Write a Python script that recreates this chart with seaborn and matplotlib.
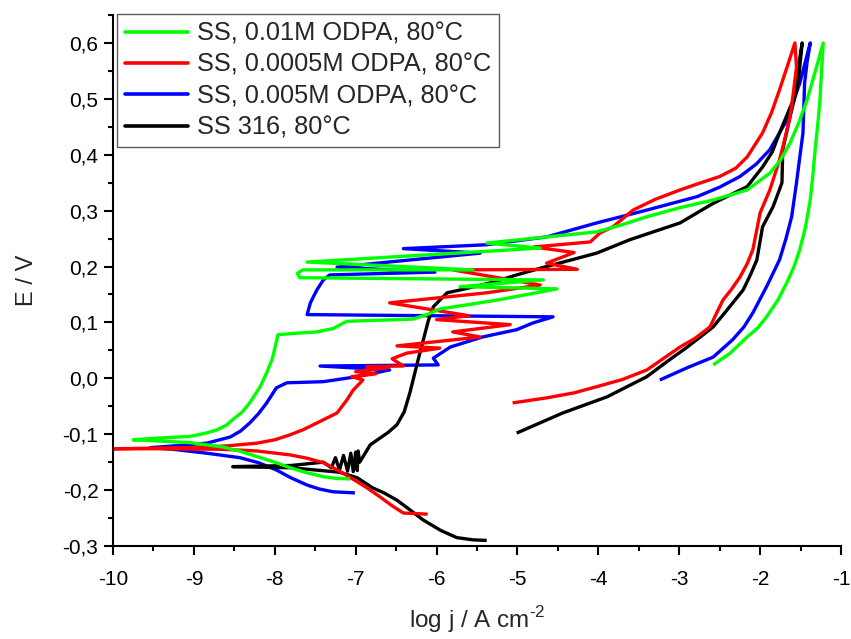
import numpy as np
import pandas as pd
import matplotlib
matplotlib.use("Agg")
import matplotlib.pyplot as plt
from matplotlib.ticker import FuncFormatter, MultipleLocator
from matplotlib.lines import Line2D
import seaborn as sns

# ---------------- data ----------------
series_labels = ["SS, 0.01M ODPA, 80°C", "SS, 0.0005M ODPA, 80°C",
                 "SS, 0.005M ODPA, 80°C", "SS 316, 80°C"]
series_colors = ["#00FF00", "#FF0000", "#0000FF", "#000000"]

green_logj = [-7.07, -7.25, -7.40, -7.60, -7.81, -8.00, -8.22, -8.44, -8.64, -9.05, -9.46, -9.75,
              -9.46, -9.05, -8.85, -8.71, -8.60, -8.52, -8.40, -8.31, -8.18, -8.10, -8.03, -7.96,
              -7.70, -7.48, -7.28, -7.11, -6.29, -6.10, -5.96, -5.60, -5.25, -4.51, -5.71, -4.68,
              -7.69, -7.72, -7.65, -5.55, -7.60, -4.72, -5.38, -4.02, -3.70, -3.40, -3.00, -2.58,
              -2.16, -1.88, -1.75, -1.63, -1.52, -1.42, -1.32, -1.22,
              -1.24, -1.26, -1.29, -1.32, -1.35, -1.38, -1.44, -1.51, -1.58, -1.67, -1.78,
              -1.92, -2.03, -2.16, -2.37, -2.58]
green_E = [-0.180, -0.179, -0.176, -0.169, -0.160, -0.150, -0.140, -0.130, -0.123, -0.115, -0.112, -0.110,
           -0.107, -0.104, -0.098, -0.092, -0.084, -0.074, -0.060, -0.044, -0.015, 0.010, 0.035, 0.078,
           0.081, 0.083, 0.089, 0.102, 0.106, 0.115, 0.124, 0.132, 0.140, 0.160, 0.164, 0.176,
           0.180, 0.188, 0.194, 0.194, 0.208, 0.233, 0.242, 0.262, 0.275, 0.289, 0.305, 0.319,
           0.337, 0.367, 0.390, 0.421, 0.458, 0.498, 0.548, 0.600,
           0.550, 0.498, 0.450, 0.409, 0.360, 0.319, 0.270, 0.230, 0.200, 0.171, 0.140,
           0.110, 0.090, 0.074, 0.045, 0.024]

red_logj = [-6.11, -6.41, -6.55, -6.70, -6.85, -6.98, -7.20, -7.40, -7.60, -7.81, -8.22, -8.64,
            -9.46, -10.0,
            -9.05, -8.60, -8.22, -8.00, -7.81, -7.65, -7.48, -7.23, -7.11, -7.03, -6.91,
            -7.05, -6.75, -7.00, -6.60, -6.86, -6.41, -6.55, -6.37, -5.96, -6.49,
            -5.46, -5.80, -5.09, -6.00, -5.60, -6.58, -5.38, -4.72, -5.80, -4.26,
            -4.64, -4.30, -4.80, -4.10, -3.98, -3.82, -3.57, -3.30, -2.99, -2.75, -2.50, -2.30,
            -2.16, -1.97, -1.86, -1.76, -1.66, -1.57,
            -1.55, -1.59, -1.63, -1.70, -1.76, -1.88, -2.00, -2.09, -2.16, -2.25, -2.35, -2.46,
            -2.62, -2.80, -2.99, -3.20, -3.40, -3.70, -4.02, -4.30, -4.64, -5.06]
red_E = [-0.243, -0.241, -0.228, -0.212, -0.197, -0.185, -0.166, -0.151, -0.143, -0.137, -0.130, -0.127,
         -0.126, -0.126,
         -0.124, -0.121, -0.116, -0.110, -0.101, -0.092, -0.080, -0.062, -0.039, -0.021, -0.003,
         0.003, 0.008, 0.012, 0.019, 0.021, 0.022, 0.035, 0.045, 0.054, 0.058,
         0.074, 0.083, 0.096, 0.105, 0.112, 0.135, 0.153, 0.167, 0.194, 0.195,
         0.206, 0.225, 0.235, 0.244, 0.260, 0.271, 0.301, 0.320, 0.337, 0.349, 0.361, 0.376,
         0.396, 0.439, 0.475, 0.516, 0.560, 0.600,
         0.557, 0.510, 0.468, 0.425, 0.391, 0.337, 0.296, 0.230, 0.205, 0.181, 0.160, 0.140,
         0.092, 0.072, 0.056, 0.035, 0.015, -0.002, -0.015, -0.026, -0.035, -0.044]

blue_logj = [-7.01, -7.28, -7.45, -7.60, -7.80, -7.98, -8.20, -8.43, -8.84, -9.26, -9.54,
             -9.26, -8.84, -8.55, -8.42, -8.31, -8.20, -8.10, -7.98, -7.85, -7.40, -6.98, -6.58,
             -7.44, -5.98, -6.04, -5.83, -5.43, -5.01, -4.81, -4.56, -7.60, -7.56,
             -7.48, -7.40, -7.32, -6.02, -7.23, -5.46, -6.41, -5.38, -4.64, -4.02,
             -3.40, -2.78, -2.50, -2.25, -2.05, -1.88, -1.67, -1.51, -1.38,
             -1.42, -1.45, -1.47, -1.51, -1.55, -1.61, -1.68, -1.76, -1.92, -2.09, -2.20, -2.34,
             -2.58, -2.90, -3.24]
blue_E = [-0.205, -0.203, -0.198, -0.191, -0.178, -0.164, -0.151, -0.142, -0.134, -0.127, -0.124,
          -0.121, -0.116, -0.105, -0.094, -0.080, -0.063, -0.044, -0.017, -0.008, -0.006, 0.003, 0.015,
          0.022, 0.024, 0.036, 0.056, 0.074, 0.087, 0.099, 0.110, 0.114, 0.135,
          0.158, 0.176, 0.185, 0.190, 0.199, 0.224, 0.232, 0.239, 0.253, 0.278,
          0.301, 0.325, 0.342, 0.361, 0.383, 0.409, 0.462, 0.528, 0.600,
          0.565, 0.528, 0.439, 0.395, 0.350, 0.289, 0.250, 0.212, 0.164, 0.117, 0.092, 0.069,
          0.038, 0.019, -0.003]

black_logj = [-5.38, -5.55, -5.75, -5.95, -6.17, -6.35, -6.49, -6.65, -6.79, -6.98, -7.20, -7.80, -8.52,
              -7.80, -7.40, -7.30, -7.25, -7.20, -7.15, -7.10, -7.06, -7.03, -7.00,
              -6.98, -6.97, -6.95, -6.82, -6.70, -6.60, -6.49, -6.40, -6.33, -6.23, -6.10, -6.04,
              -5.87, -5.71, -5.30, -5.01, -4.64, -4.02, -3.61, -2.99, -2.58, -2.16,
              -1.97, -1.85, -1.76, -1.59, -1.48,
              -1.53, -1.63, -1.72, -1.73, -1.78, -1.84, -1.97, -2.04, -2.12, -2.21, -2.41, -2.58,
              -2.90, -3.15, -3.40, -3.89, -4.44, -5.01]
black_E = [-0.290, -0.289, -0.285, -0.272, -0.253, -0.233, -0.218, -0.205, -0.196, -0.178, -0.168, -0.160, -0.158,
           -0.156, -0.150, -0.160, -0.142, -0.164, -0.138, -0.166, -0.134, -0.167, -0.132,
           -0.165, -0.130, -0.150, -0.119, -0.107, -0.097, -0.083, -0.060, -0.026, 0.032, 0.104, 0.128,
           0.153, 0.158, 0.172, 0.185, 0.200, 0.224, 0.248, 0.278, 0.313, 0.343,
           0.378, 0.405, 0.439, 0.498, 0.600,
           0.528, 0.468, 0.409, 0.350, 0.330, 0.307, 0.271, 0.212, 0.185, 0.158, 0.122, 0.092,
           0.056, 0.030, 0.003, -0.033, -0.062, -0.098]

x_ticks = [-10, -9, -8, -7, -6, -5, -4, -3, -2, -1]
y_ticks = [-0.3, -0.2, -0.1, 0.0, 0.1, 0.2, 0.3, 0.4, 0.5, 0.6]

# ---------------- figure ----------------
sns.set_theme(style="ticks")
plt.rcParams["font.family"] = ["Liberation Sans", "DejaVu Sans"]
plt.rcParams["axes.unicode_minus"] = False
plt.rcParams["mathtext.fontset"] = "custom"
plt.rcParams["mathtext.rm"] = "Liberation Sans"
plt.rcParams["mathtext.sf"] = "Liberation Sans"

fig = plt.figure(figsize=(8.51, 6.39), dpi=100)
ax = fig.add_axes([113 / 851, 1 - 546 / 639, (841 - 113) / 851, (546 - 15) / 639])

data = {
    series_labels[0]: (green_logj, green_E),
    series_labels[1]: (red_logj, red_E),
    series_labels[2]: (blue_logj, blue_E),
    series_labels[3]: (black_logj, black_E),
}
color_of = dict(zip(series_labels, series_colors))
draw_order = [series_labels[2], series_labels[3], series_labels[1], series_labels[0]]
for lab in draw_order:
    xs, ys = data[lab]
    df = pd.DataFrame({"logj": xs, "E": ys})
    sns.lineplot(data=df, x="logj", y="E", sort=False, estimator=None,
                 color=color_of[lab], linewidth=2.4, ax=ax, legend=False,
                 solid_joinstyle="round", solid_capstyle="butt")

ax.set_xlim(-10, -1)
ax.set_ylim(-0.3, 0.65)
ax.set_xticks(x_ticks)
ax.set_yticks(y_ticks)
ax.xaxis.set_minor_locator(MultipleLocator(0.5))
ax.yaxis.set_minor_locator(MultipleLocator(0.05))
ax.xaxis.set_major_formatter(FuncFormatter(lambda v, p: f"{v:.0f}"))
ax.yaxis.set_major_formatter(FuncFormatter(lambda v, p: f"{v:.1f}".replace(".", ",").replace("-0,0", "0,0")))

for side in ["top", "right"]:
    ax.spines[side].set_visible(False)
for side in ["left", "bottom"]:
    ax.spines[side].set_linewidth(1.5)
    ax.spines[side].set_color("black")

ax.tick_params(axis="both", which="major", direction="out", length=6.5, width=1.5,
               labelsize=15, colors="black")
ax.tick_params(axis="both", which="minor", direction="out", length=3.5, width=1.5,
               colors="black")
ax.tick_params(axis="x", which="major", pad=11)
ax.tick_params(axis="y", which="major", pad=4)

ax.set_xlabel("log j / A cm$^{\\text{-2}}$", fontsize=17.5, labelpad=11)
ax.set_ylabel("E / V", fontsize=17, labelpad=18)
ax.grid(False)

handles = [Line2D([0], [0], color=c, lw=2.6) for c in series_colors]
leg = ax.legend(handles, series_labels, loc="upper left",
                bbox_to_anchor=(117 / 851, 1 - 14 / 639), bbox_transform=fig.transFigure,
                borderaxespad=0, fontsize=18.3, frameon=True, fancybox=False,
                handlelength=2.5, handletextpad=0.35, labelspacing=0.29,
                borderpad=0.3)
leg.get_frame().set_edgecolor("#333333")
leg.get_frame().set_linewidth(1.0)

try:
    fig.canvas.draw()
except Exception:
    ax.set_xlabel("log j / A cm$^{\\mathrm{-2}}$", fontsize=17.5, labelpad=11)

fig.savefig("out.png", dpi=100)
